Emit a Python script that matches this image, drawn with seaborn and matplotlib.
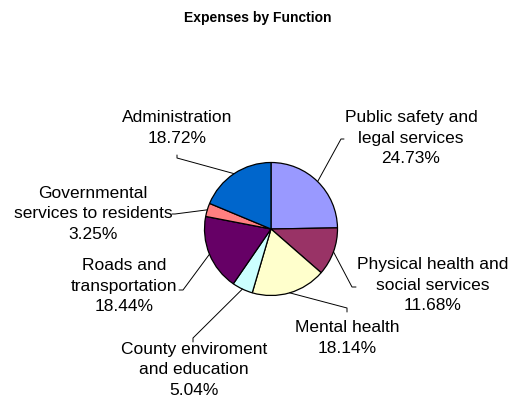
import numpy as np
import matplotlib
matplotlib.use("Agg")
import matplotlib.pyplot as plt
import seaborn as sns

# veriler: saat 12'den başlayıp saat yönünde
kategoriler = ["Public safety and\nlegal services", "Physical health and\nsocial services",
               "Mental health", "County enviroment\nand education", "Roads and\ntransportation",
               "Governmental\nservices to residents", "Administration"]
yuzdeler = [24.73, 11.68, 18.14, 5.04, 18.44, 3.25, 18.72]
renkler = ["#9999FF", "#993366", "#FFFFCC", "#CCFFFF", "#660066", "#FF8080", "#0066CC"]

# etiket yerleşimi (piksel, yukarıdan aşağı): metin merkezi, kırılma noktası, uç
metin_xy = [(411, 138), (433, 285), (347, 338), (194, 370), (124, 286), (93, 214), (177, 128)]
kirilma = [(341, 139), (352, 287), (347, 308), (193, 338), (183, 290), (175, 214), (177, 158)]
uc = [(344, 139), (356, 287), (347, 312), (193, 342), (179, 290), (172, 214), (177, 155)]

sns.set_style("white")
plt.rcParams["font.family"] = ["Liberation Sans", "DejaVu Sans"]

W, H = 515, 400
Y = lambda py: H - py

fig = plt.figure(figsize=(5.15, 4), dpi=100)
ax = fig.add_axes([0, 0, 1, 1])
merkez = (271, Y(229))
r = 66.5
dilimler, _ = ax.pie(yuzdeler, colors=renkler, startangle=90, counterclock=False,
                     center=merkez, radius=r, frame=True,
                     wedgeprops=dict(edgecolor="black", linewidth=0.9))
ax.set_xlim(0, W)
ax.set_ylim(0, H)
ax.axis("off")

for d, ad, yz, (tx, ty), (kx, ky), (ux, uy) in zip(dilimler, kategoriler, yuzdeler, metin_xy, kirilma, uc):
    aci = np.deg2rad((d.theta1 + d.theta2) / 2)
    px = merkez[0] + r * np.cos(aci)
    py = merkez[1] + r * np.sin(aci)
    ax.plot([px, kx, ux], [py, Y(ky), Y(uy)], color="black", linewidth=0.7)
    ax.text(tx, Y(ty), f"{ad}\n{yz:.2f}%", ha="center", va="center", multialignment="center",
            fontsize=12.5, linespacing=1.45, color="black")

ax.text(258, Y(18), "Expenses by Function", ha="center", va="center",
        fontsize=10, fontweight="bold", color="black")

fig.savefig("out.png", dpi=100)
